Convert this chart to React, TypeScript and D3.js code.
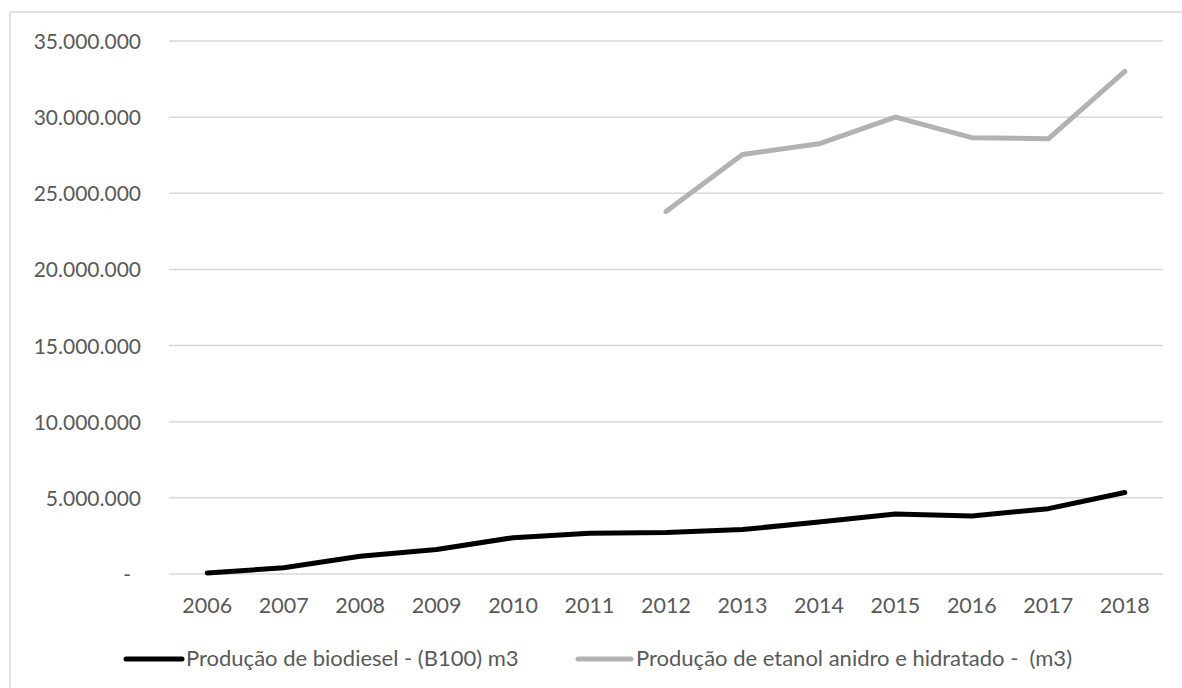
import React from "react";
import * as d3 from "d3";

const years = ["2006","2007","2008","2009","2010","2011","2012","2013","2014","2015","2016","2017","2018"];
const biodiesel: (number | null)[] = [69002, 404329, 1167128, 1608448, 2386399, 2672760, 2717483, 2917488, 3419838, 3937269, 3801339, 4291294, 5350036];
const ethanol: (number | null)[] = [null, null, null, null, null, null, 23800000, 27550000, 28250000, 30000000, 28650000, 28580000, 33000000];
const yTicks = [0, 5000000, 10000000, 15000000, 20000000, 25000000, 30000000, 35000000];
const seriesNames = ["Produção de biodiesel - (B100) m3", "Produção de etanol anidro e hidratado -  (m3)"];
const seriesColors = ["#000000", "#b2b2b2"];

const fmt = (v: number) => (v === 0 ? "-" : d3.format(",")(v).replace(/,/g, "."));

export default function App() {
  const W = 1182, H = 688;
  const x = d3.scalePoint<string>().domain(years).range([169, 1163]).padding(0.5);
  const y = d3.scaleLinear().domain([0, 35000000]).range([574, 41]);
  const line = d3
    .line<number | null>()
    .defined((d) => d !== null)
    .x((_, i) => x(years[i]) as number)
    .y((d) => y(d as number));
  const font = "Lato, 'Open Sans', sans-serif";
  const txt = "#595959";
  const legend = [
    { x1: 126, x2: 182, tx: 186 },
    { x1: 578, x2: 631, tx: 636 },
  ];
  return (
    <div style={{ position: "absolute", left: 0, top: 0 }}>
      <svg width={W} height={H} style={{ display: "block" }}>
        <rect x={0} y={0} width={W} height={H} fill="#fff" />
        <rect x={10} y={12} width={W + 20} height={H + 20} fill="none" stroke="#d9d9d9" strokeWidth={1.5} />
        {yTicks.map((t) => (
          <g key={t}>
            <line x1={169} x2={1163} y1={y(t)} y2={y(t)} stroke="#d9d9d9" strokeWidth={1.5} />
            <text
              x={t === 0 ? 131 : 141}
              y={y(t) + 8}
              textAnchor="end"
              fontFamily={font}
              fontSize={21}
              fill={txt}
            >
              {fmt(t)}
            </text>
          </g>
        ))}
        {years.map((yr) => (
          <text key={yr} x={x(yr)} y={613} textAnchor="middle" fontFamily={font} fontSize={21.5} fill={txt}>
            {yr}
          </text>
        ))}
        {[biodiesel, ethanol].map((s, i) => (
          <path
            key={i}
            d={line(s) || ""}
            fill="none"
            stroke={seriesColors[i]}
            strokeWidth={5}
            strokeLinecap="round"
            strokeLinejoin="round"
          />
        ))}
        {legend.map((l, i) => (
          <g key={i}>
            <line x1={l.x1} x2={l.x2} y1={659} y2={659} stroke={seriesColors[i]} strokeWidth={5} strokeLinecap="round" />
            <text x={l.tx} y={666} fontFamily={font} fontSize={22} fill={txt} style={{ whiteSpace: "pre" }}>
              {seriesNames[i]}
            </text>
          </g>
        ))}
      </svg>
    </div>
  );
}
